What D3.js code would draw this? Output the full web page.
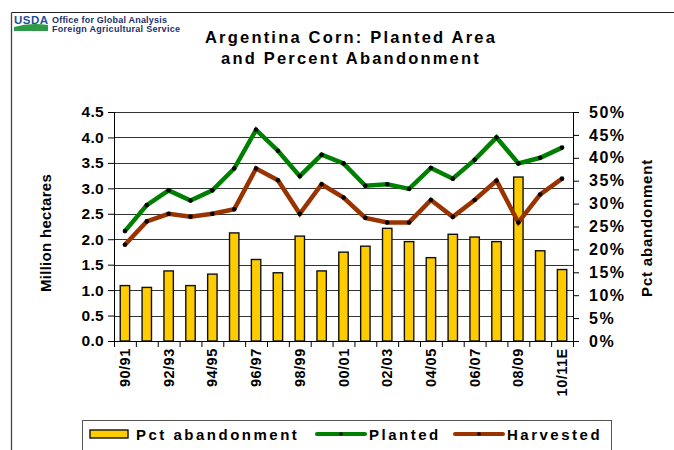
<!DOCTYPE html>
<html>
<head>
<meta charset="utf-8">
<script src="https://cdn.jsdelivr.net/npm/d3@7"></script>
<style>
  body { margin: 0; background: #fff; }
  svg { font-family: "Liberation Sans", Arial, sans-serif; font-weight: bold; }
  .axis path, .axis line { stroke: #000; }
  .axis text { font-family: "Liberation Sans", Arial, sans-serif; font-weight: bold; fill: #000; }
</style>
</head>
<body>
<svg width="674" height="450"></svg>
<script>
var years = ["90/91","91/92","92/93","93/94","94/95","95/96","96/97","97/98","98/99","99/00",
             "00/01","01/02","02/03","03/04","04/05","05/06","06/07","07/08","08/09","09/10","10/11E"];
var shownLabels = ["90/91","92/93","94/95","96/97","98/99","00/01","02/03","04/05","06/07","08/09","10/11E"];
// percent abandonment (right axis)
var pctAbandon = [12.1, 11.7, 15.3, 12.1, 14.6, 23.6, 17.8, 14.9, 22.9, 15.3,
                  19.4, 20.7, 24.6, 21.7, 18.2, 23.3, 22.7, 21.7, 35.8, 19.7, 15.6];
// million hectares (left axis)
var planted = [2.16, 2.67, 2.96, 2.76, 2.96, 3.39, 4.15, 3.74, 3.24, 3.66,
               3.49, 3.05, 3.08, 2.99, 3.40, 3.19, 3.56, 4.00, 3.49, 3.60, 3.80];
var harvested = [1.89, 2.35, 2.50, 2.44, 2.50, 2.59, 3.39, 3.16, 2.50, 3.08,
                 2.82, 2.42, 2.33, 2.33, 2.77, 2.44, 2.77, 3.15, 2.33, 2.88, 3.19];

var svg = d3.select("svg"),
    margin = {top: 112, right: 101, bottom: 109, left: 114},
    width = 674 - margin.left - margin.right,
    height = 450 - margin.top - margin.bottom;

var x = d3.scaleBand().domain(years).range([0, width]),
    xi = d3.scaleLinear().domain([0, years.length]).range([0, width]),
    y = d3.scaleLinear().domain([0, 4.5]).range([height, 0]),
    y2 = d3.scaleLinear().domain([0, 50]).range([height, 0]);

// frame lines + logo
svg.append("line").attr("x1", 11.5).attr("x2", 674).attr("y1", 12.5).attr("y2", 12.5)
    .attr("stroke", "#222").attr("stroke-width", 1.2);
svg.append("line").attr("x1", 11.5).attr("x2", 11.5).attr("y1", 12.5).attr("y2", 450)
    .attr("stroke", "#444").attr("stroke-width", 1.3);
var logo = svg.append("g");
logo.append("text").attr("x", 14).attr("y", 24).attr("font-size", 11.5).attr("fill", "#1f4e9a")
    .attr("textLength", 34).text("USDA");
logo.append("path").attr("d", "M14,31 L14,27 Q30,22 48,25 L48,31 Z").attr("fill", "#2e9a48");
logo.append("text").attr("x", 52).attr("y", 23).attr("font-size", 9).attr("fill", "#1b2f6e")
    .attr("textLength", 115).text("Office for Global Analysis");
logo.append("text").attr("x", 52).attr("y", 32).attr("font-size", 9).attr("fill", "#1b2f6e")
    .attr("textLength", 128).text("Foreign Agricultural Service");

// title
var title = svg.append("text").attr("text-anchor", "middle").attr("font-size", 16.5)
    .attr("letter-spacing", 2.2).attr("fill", "#000");
title.append("tspan").attr("x", 351).attr("y", 43).text("Argentina Corn:  Planted Area");
title.append("tspan").attr("x", 351).attr("y", 64).text("and Percent Abandonment");

var focus = svg.append("g")
    .attr("transform", "translate(" + margin.left + "," + margin.top + ")");

// gridlines
focus.append("g").selectAll("line").data(y.ticks(9)).enter().append("line")
    .attr("x1", 0).attr("x2", width)
    .attr("y1", function(d) { return Math.round(y(d)) + 0.5; })
    .attr("y2", function(d) { return Math.round(y(d)) + 0.5; })
    .attr("stroke", "#333").attr("stroke-width", 1);

// bars
var bw = x.bandwidth() * 0.43;
focus.append("g").selectAll("rect").data(pctAbandon).enter().append("rect")
    .attr("x", function(d, i) { return x(years[i]) + (x.bandwidth() - bw) / 2; })
    .attr("y", function(d) { return y2(d); })
    .attr("width", bw)
    .attr("height", function(d) { return height - y2(d); })
    .attr("fill", "#ffcc00").attr("stroke", "#111").attr("stroke-width", 1.4);

// lines
function drawLine(vals, color) {
  var line = d3.line()
      .x(function(d, i) { return x(years[i]) + x.bandwidth() / 2; })
      .y(function(d) { return y(d); });
  focus.append("path").datum(vals).attr("d", line)
      .attr("fill", "none").attr("stroke", color).attr("stroke-width", 4.5)
      .attr("stroke-linejoin", "miter");
  focus.append("g").selectAll("circle").data(vals).enter().append("circle")
      .attr("cx", function(d, i) { return x(years[i]) + x.bandwidth() / 2; })
      .attr("cy", function(d) { return y(d); })
      .attr("r", 2.3).attr("fill", "#000");
}
drawLine(planted, "#008000");
drawLine(harvested, "#993300");

// axes
focus.append("g").attr("class", "axis")
    .call(d3.axisLeft(y).ticks(9).tickFormat(d3.format(".1f")).tickSize(6).tickPadding(4))
    .call(function(g) { g.selectAll("text").attr("font-size", 15.5).attr("letter-spacing", 0.3); });

focus.append("g").attr("class", "axis")
    .attr("transform", "translate(" + width + ",0)")
    .call(d3.axisRight(y2).ticks(10).tickFormat(function(d) { return d + "%"; }).tickSize(6).tickPadding(10))
    .call(function(g) { g.selectAll("text").attr("font-size", 16).attr("letter-spacing", 1.5); });

focus.append("g").attr("class", "axis")
    .attr("transform", "translate(0," + height + ")")
    .call(d3.axisBottom(xi).ticks(years.length).tickFormat("").tickSize(6))
    .call(function(g) { g.select(".domain").remove(); });
focus.append("line").attr("x1", 0).attr("x2", width).attr("y1", height + 0.5).attr("y2", height + 0.5)
    .attr("stroke", "#000");

focus.append("g").attr("class", "axis")
    .attr("transform", "translate(0," + height + ")")
    .call(d3.axisBottom(x).tickValues(shownLabels).tickSize(0).tickPadding(0))
    .call(function(g) {
      g.select(".domain").remove();
      g.selectAll("text").attr("font-size", 14.5).attr("letter-spacing", 0.5)
        .attr("transform", "rotate(-90)")
        .attr("text-anchor", "end")
        .attr("dx", "-0.5em").attr("dy", "0.35em").attr("x", 0).attr("y", 0);
    });

// axis titles
svg.append("text").attr("transform", "translate(51,233) rotate(-90)")
    .attr("text-anchor", "middle").attr("font-size", 15).attr("letter-spacing", 0.3)
    .text("Million hectares");
svg.append("text").attr("transform", "translate(652,228) rotate(-90)")
    .attr("text-anchor", "middle").attr("font-size", 15).attr("letter-spacing", 0.8)
    .text("Pct abandonment");

// legend
var legend = svg.append("g");
legend.append("rect").attr("x", 82.5).attr("y", 420.5).attr("width", 529).attr("height", 40)
    .attr("fill", "#fff").attr("stroke", "#555").attr("stroke-width", 1);
legend.append("rect").attr("x", 90).attr("y", 430).attr("width", 38).attr("height", 8)
    .attr("fill", "#ffcc00").attr("stroke", "#111").attr("stroke-width", 1.4);
legend.append("text").attr("x", 136).attr("y", 440).attr("font-size", 15).attr("letter-spacing", 2.5)
    .text("Pct abandonment");
[[317, "#008000", "Planted"], [455, "#993300", "Harvested"]].forEach(function(it) {
  legend.append("line").attr("x1", it[0]).attr("x2", it[0] + 48).attr("y1", 434).attr("y2", 434)
      .attr("stroke", it[1]).attr("stroke-width", 4).attr("stroke-linecap", "round");
  legend.append("circle").attr("cx", it[0] + 24).attr("cy", 434).attr("r", 1.8).attr("fill", "#000");
  legend.append("text").attr("x", it[0] + 52).attr("y", 440).attr("font-size", 15)
      .attr("letter-spacing", 2.5).text(it[2]);
});
</script>
</body>
</html>
